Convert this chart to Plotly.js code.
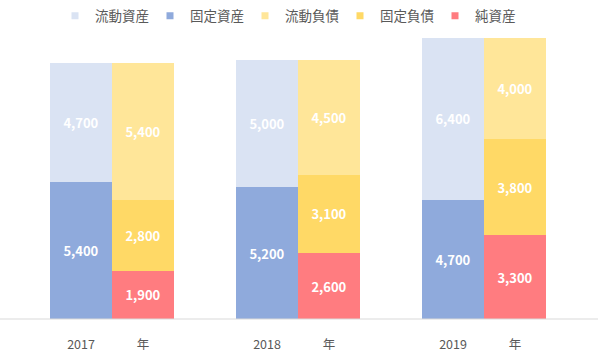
<!DOCTYPE html>
<html>
<head>
<meta charset="utf-8">
<script src="https://cdn.plot.ly/plotly-3.0.1.min.js"></script>
<style>html,body{margin:0;padding:0;background:#fff;}#chart{width:598px;height:351px;}</style>
</head>
<body>
<div id="chart"></div>
<script>
var years = ["2017", "2018", "2019"];
var yearSuffix = "年";
var currentAssets = [4700, 5000, 6400];      // 流動資産
var fixedAssets = [5400, 5200, 4700];        // 固定資産
var currentLiabilities = [5400, 4500, 4000]; // 流動負債
var fixedLiabilities = [2800, 3100, 3800];   // 固定負債
var netAssets = [1900, 2600, 3300];          // 純資産
var seriesNames = ["流動資産", "固定資産", "流動負債", "固定負債", "純資産"];
var seriesColors = ["#DAE3F3", "#8FAADC", "#FFE699", "#FFD966", "#FF7C80"];

var leftX = years.map(function (_, i) { return i * 3; });
var rightX = years.map(function (_, i) { return i * 3 + 1; });
var tickVals = [], tickText = [];
years.forEach(function (y, i) {
  tickVals.push(leftX[i], rightX[i]);
  tickText.push(y, yearSuffix);
});

var FONT = "'Noto Sans CJK JP', 'Noto Sans', sans-serif";

function barTrace(name, color, x, y) {
  return {
    type: "bar", name: name, x: x, y: y, width: 1,
    marker: { color: color, line: { width: 0 } },
    texttemplate: "%{y:,}", textposition: "inside", insidetextanchor: "middle",
    textangle: 0, constraintext: "none",
    textfont: { family: FONT, size: 13, color: "#FFFFFF", weight: "bold" },
    hoverinfo: "skip", showlegend: false
  };
}
function legendTrace(name, color) {
  return {
    type: "scatter", mode: "markers", name: name, x: [null], y: [null],
    marker: { symbol: "square", size: 7, color: color }, showlegend: true
  };
}

var data = [
  barTrace(seriesNames[1], seriesColors[1], leftX, fixedAssets),
  barTrace(seriesNames[0], seriesColors[0], leftX, currentAssets),
  barTrace(seriesNames[4], seriesColors[4], rightX, netAssets),
  barTrace(seriesNames[3], seriesColors[3], rightX, fixedLiabilities),
  barTrace(seriesNames[2], seriesColors[2], rightX, currentLiabilities)
];
seriesNames.forEach(function (n, i) { data.push(legendTrace(n, seriesColors[i])); });

var layout = {
  width: 598, height: 351,
  margin: { l: 19, r: 21, t: 28, b: 32, autoexpand: false },
  paper_bgcolor: "#FFFFFF", plot_bgcolor: "#FFFFFF",
  barmode: "stack", bargap: 0,
  font: { family: FONT, color: "#595959", size: 12 },
  xaxis: {
    range: [-1, 8], tickvals: tickVals, ticktext: tickText,
    showgrid: false, zeroline: false, showline: false, ticks: "",
    ticklabelstandoff: 16,
    tickfont: { family: FONT, size: 12.5, color: "#595959" }
  },
  yaxis: {
    range: [0, 11480], visible: false, showgrid: false, zeroline: false
  },
  shapes: [{
    type: "line", xref: "paper", yref: "paper",
    x0: -19 / 558, x1: 579 / 558, y0: 0, y1: 0,
    line: { color: "#D9D9D9", width: 1 }
  }],
  legend: {
    orientation: "h", x: 36 / 558, xanchor: "left", y: 1 - 16 / 351, yanchor: "middle",
    yref: "container", xref: "paper",
    font: { family: FONT, size: 13.5, color: "#595959" },
    entrywidth: 50, entrywidthmode: "pixels", itemclick: false,
    traceorder: "normal", bgcolor: "rgba(0,0,0,0)"
  },
  showlegend: true
};

Plotly.newPlot("chart", data, layout, { displayModeBar: false, staticPlot: true });
</script>
</body>
</html>
